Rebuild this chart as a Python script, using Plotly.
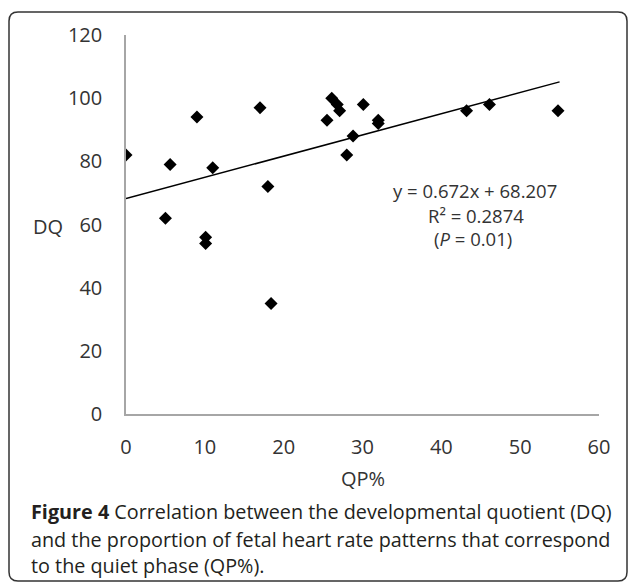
import plotly.graph_objects as go

# Data
qp = [0, 5, 5.6, 9, 10.1, 10.1, 11, 17, 18, 18.4, 25.5, 26.1, 26.8, 27.1,
      28, 28.8, 30.1, 32, 32, 43.2, 46.1, 54.8]
dq = [82, 62, 79, 94, 56, 54, 78, 97, 72, 35, 93, 100, 98, 96,
      82, 88, 98, 93, 92, 96, 98, 96]
slope = 0.672
intercept = 68.207
trend_x = [0, 55]
trend_y = [slope * v + intercept for v in trend_x]

x_ticks = [0, 10, 20, 30, 40, 50, 60]
y_ticks = [0, 20, 40, 60, 80, 100, 120]

W, H = 629, 584
L, R, T, B = 126, 30, 35, 170
PW, PH = W - L - R, H - T - B


def px(x):
    return (x - L) / PW


def py(y):
    return (H - B - y) / PH


fig = go.Figure()
fig.add_trace(go.Scatter(x=trend_x, y=trend_y, mode="lines",
                         line=dict(color="black", width=1.5),
                         hoverinfo="skip", showlegend=False))
fig.add_trace(go.Scatter(x=qp, y=dq, mode="markers",
                         marker=dict(symbol="diamond", size=10, color="black"),
                         showlegend=False))

# Rounded frame around the figure
x0, x1, yt, yb = px(9), px(627), py(12), py(581)
rx, ry = 9 / PW, 9 / PH
path = (f"M {x0+rx},{yt} L {x1-rx},{yt} Q {x1},{yt} {x1},{yt-ry} "
        f"L {x1},{yb+ry} Q {x1},{yb} {x1-rx},{yb} L {x0+rx},{yb} "
        f"Q {x0},{yb} {x0},{yb+ry} L {x0},{yt-ry} Q {x0},{yt} {x0+rx},{yt} Z")
fig.add_shape(type="path", path=path, xref="paper", yref="paper",
              line=dict(color="#333333", width=1.5))

txt = "#333333"
tick_font = dict(family="Open Sans", size=20, color=txt)
ann = []
ann.append(dict(text="DQ", x=px(48), y=py(226), xref="paper", yref="paper",
                showarrow=False, font=tick_font, xanchor="center", yanchor="middle"))
ann.append(dict(text="QP%", x=px(363), y=py(478), xref="paper", yref="paper",
                showarrow=False, font=tick_font, xanchor="center", yanchor="middle"))
eq_font = dict(family="Open Sans", size=18.5, color=txt)
for t, yy, xx in [("y = 0.672x + 68.207", 190, 475),
                  ("R² = 0.2874", 215, 476),
                  ("(<i>P</i> = 0.01)", 238, 473)]:
    ann.append(dict(text=t, x=px(xx), y=py(yy), xref="paper", yref="paper",
                    showarrow=False, font=eq_font, xanchor="center", yanchor="middle"))
cap_font = dict(family="Open Sans", size=19.8, color="#231f20")
caps = ["<b>Figure 4</b> Correlation between the developmental quotient (DQ)",
        "and the proportion of fetal heart rate patterns that correspond",
        "to the quiet phase (QP%)."]
for t, yy in zip(caps, [512, 539, 565]):
    ann.append(dict(text=t, x=px(29), y=py(yy), xref="paper", yref="paper",
                    showarrow=False, font=cap_font, xanchor="left", yanchor="middle",
                    align="left"))

fig.update_layout(
    width=W, height=H,
    margin=dict(l=L, r=R, t=T, b=B),
    paper_bgcolor="white", plot_bgcolor="white",
    annotations=ann,
    xaxis=dict(range=[0, 60], tickvals=x_ticks, showgrid=False, zeroline=False,
               showline=True, linecolor="#a6a6a6", linewidth=1.5,
               ticks="", tickfont=tick_font, ticklabelstandoff=14),
    yaxis=dict(range=[0, 120], tickvals=y_ticks, showgrid=False, zeroline=False,
               showline=True, linecolor="#a6a6a6", linewidth=1.5,
               ticks="", tickfont=tick_font, ticklabelstandoff=18),
)

fig.write_html("out.html")
